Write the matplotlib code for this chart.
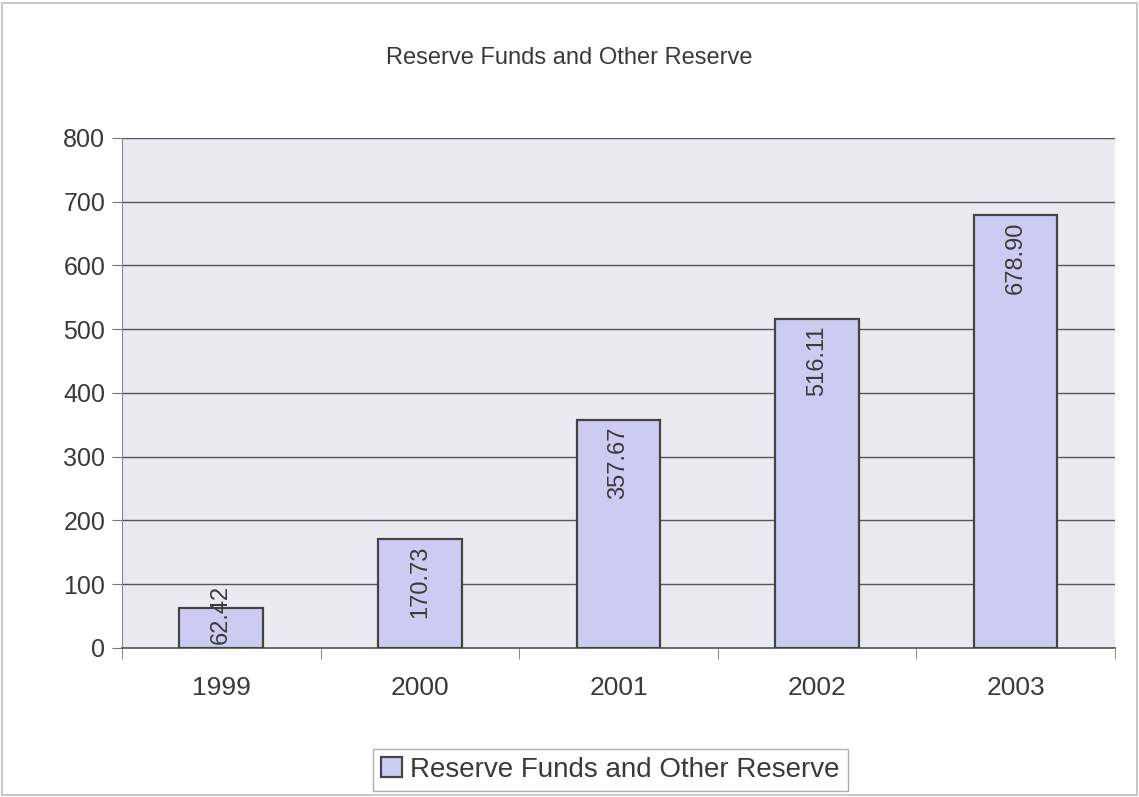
import numpy as np
import matplotlib
matplotlib.use('Agg')
import matplotlib.pyplot as plt
from matplotlib.patches import Rectangle

plt.rcParams['font.family'] = ['Liberation Sans', 'DejaVu Sans']

years = ['1999', '2000', '2001', '2002', '2003']
values = [62.42, 170.73, 357.67, 516.11, 678.90]
series_name = 'Reserve Funds and Other Reserve'

txt = '#3a3a3a'
fig = plt.figure(figsize=(11.39, 7.97), dpi=100)
fig.patch.set_facecolor('white')
fig.patches.append(Rectangle((0.002, 0.002), 0.996, 0.994, transform=fig.transFigure,
                             fill=False, edgecolor='#bdbdbd', lw=1.2))

ax = fig.add_axes([0.107, 0.187, 0.872, 0.640])
ax.set_facecolor('#eaeaf1')

x = np.arange(len(years))
bars = ax.bar(x, values, width=0.42, color='#ccccf2', edgecolor='#444444',
              linewidth=1.6, zorder=3, label=series_name)

ax.set_xlim(-0.5, len(years) - 0.5)
ax.set_ylim(0, 800)
ax.set_yticks(np.arange(0, 801, 100))
ax.yaxis.grid(True, color='#555555', lw=1.0, zorder=1)
ax.set_xticks(x)
ax.set_xticklabels(years)
ax.set_xticks(np.arange(-0.5, len(years), 1), minor=True)
ax.tick_params(axis='x', which='major', length=0, pad=20, labelsize=19, labelcolor=txt)
ax.tick_params(axis='x', which='minor', length=8, color='#777777')
ax.tick_params(axis='y', length=7, color='#777777', labelsize=18, labelcolor=txt, pad=5)

for s in ['top', 'right']:
    ax.spines[s].set_visible(False)
ax.spines['left'].set_color('#888888')
ax.spines['bottom'].set_color('#555555')
ax.spines['bottom'].set_linewidth(1.2)

for i, v in enumerate(values):
    lab = '%.2f' % v
    if i == 0:
        ax.annotate(lab, (x[i], 0), xytext=(0, 3), textcoords='offset points',
                    rotation=90, ha='center', va='bottom', fontsize=17, color=txt, zorder=4)
    else:
        ax.annotate(lab, (x[i], v), xytext=(0, -5), textcoords='offset points',
                    rotation=90, ha='center', va='top', fontsize=17, color=txt, zorder=4)

fig.text(0.5, 0.927, series_name, ha='center', va='center', fontsize=17, color=txt)

leg = fig.legend(handles=[bars], labels=[series_name], loc='center',
                 bbox_to_anchor=(0.536, 0.034), fontsize=20, frameon=True,
                 fancybox=False, edgecolor='#999999', handlelength=0.75,
                 handleheight=0.75, handletextpad=0.3, borderpad=0.3)
for t in leg.get_texts():
    t.set_color(txt)

fig.savefig('out.png', dpi=100)
